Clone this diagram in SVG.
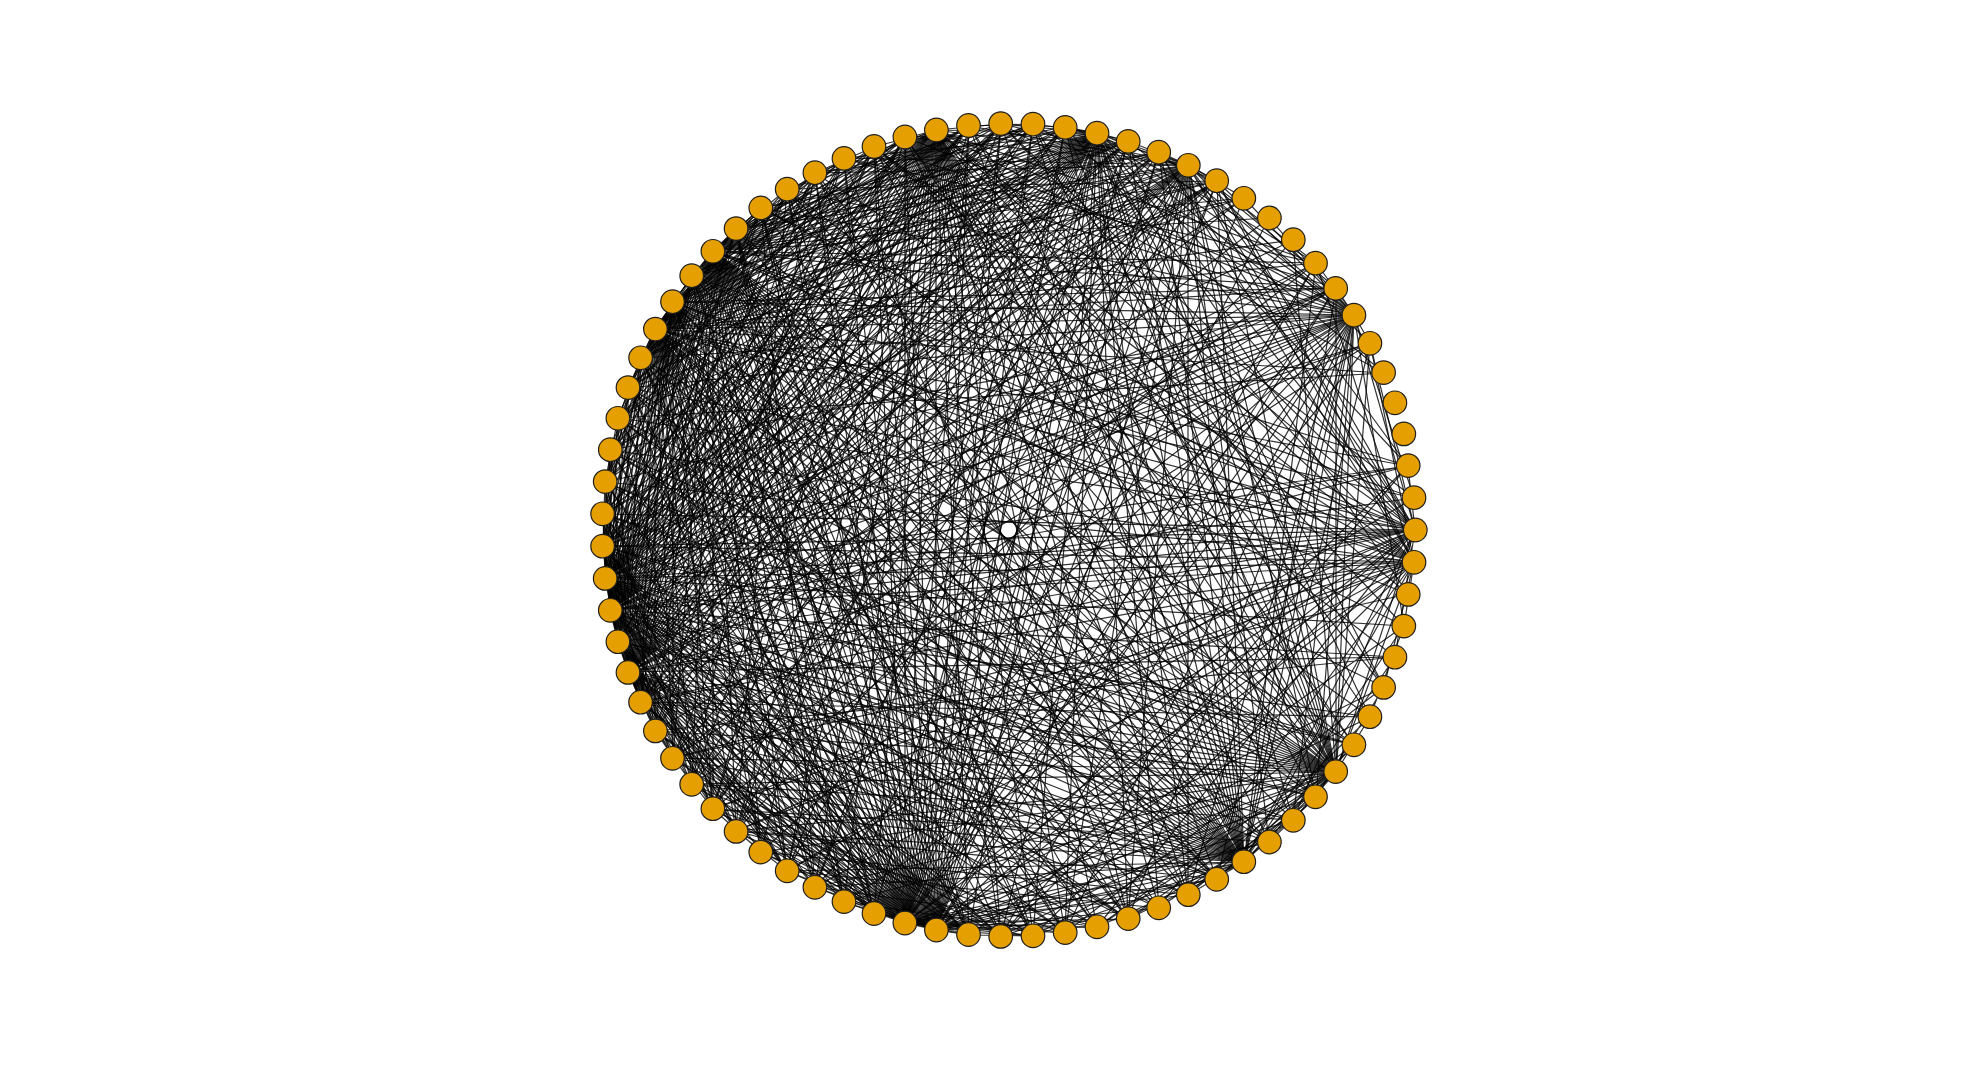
<svg xmlns="http://www.w3.org/2000/svg" width="1980" height="1080" viewBox="0 0 1980 1080">
<style>
.e{fill:none;stroke:#000;stroke-width:1.2;stroke-opacity:.8;stroke-linejoin:round}
.n{fill:#E69F00;stroke:#1f1f1f;stroke-width:1.2}
</style>
<rect width="1980" height="1080" fill="#fff"/>
<g id="edges">
<path class="e" d="M936 130L1415 530ZL1354 315ZL1316 263ZL1188 165ZL1097 133ZL874 147ZL787 189ZL713 251ZL673 302ZL655 329ZL628 388ZL610 450ZL603 514ZL603 546ZL605 578ZL610 610ZL618 642ZL628 672ZL641 702ZL655 731ZL673 758ZL692 784ZL713 809ZL736 831ZL761 852ZL815 887ZL844 902ZL905 923ZL936 930ZL969 935ZL1001 936ZL1065 933ZL1097 927ZL1159 908ZL1217 879ZL1244 862ZL1293 820ZL1336 772ZL1384 687ZL1414 562Z"/>
<path class="e" d="M936 130L1414 498ZL1384 373ZL1001 124ZL815 173ZL736 229ZL692 276ZL641 358ZL618 418ZL605 482ZL787 871ZL874 914ZL1033 936ZL1128 919ZL1188 895ZL1269 842ZL1316 797ZL1354 745ZL1404 626Z"/>
<path class="e" d="M1097 133L1415 530ZL1408 466ZL1384 373ZL1354 315ZL1217 181ZL1188 165ZL1033 124ZL1001 124ZL844 158ZL761 208ZL713 251ZL692 276ZL655 329ZL641 358ZL618 418ZL605 482ZL603 546ZL605 578ZL610 610ZL628 672ZL655 731ZL692 784ZL713 809ZL787 871ZL874 914ZL905 923ZL936 930ZL1033 936ZL1128 919ZL1188 895ZL1244 862ZL1316 797ZL1336 772ZL1370 717ZL1408 594Z"/>
<path class="e" d="M1097 133L1316 263ZL1128 141ZL1065 127ZL905 137ZL815 173ZL736 229ZL673 302ZL628 388ZL610 450ZL603 514ZL618 642ZL641 702ZL673 758ZL736 831ZL815 887ZL969 935ZL1065 933ZL1159 908ZL1293 820ZL1384 687Z"/>
<path class="e" d="M1188 165L1415 530ZL1370 343ZL1336 288ZL1316 263ZL1217 181ZL1065 127ZL969 126ZL815 173ZL736 229ZL713 251ZL655 329ZL610 450ZL603 546ZL610 610ZL618 642ZL641 702ZL736 831ZL844 902ZL905 923ZL936 930ZL1065 933ZL1244 862ZL1269 842ZL1336 772ZL1414 562Z"/>
<path class="e" d="M1188 165L1408 466ZL1244 198ZL1159 152ZL1128 141ZL1001 124ZL905 137ZL844 158ZL692 276ZL641 358ZL618 418ZL603 514ZL605 578ZL628 672ZL673 758ZL713 809ZL787 871ZL1001 936ZL1128 919ZL1188 895ZL1316 797Z"/>
<path class="e" d="M1354 315L1415 530ZL1414 498ZL1336 288ZL1269 218ZL1159 152ZL1128 141ZL1033 124ZL905 137ZL713 251ZL673 302ZL655 329ZL628 388ZL605 482ZL603 546ZL605 578ZL610 610ZL628 672ZL673 758ZL761 852ZL905 923ZL936 930ZL1001 936ZL1128 919ZL1217 879ZL1244 862ZL1316 797ZL1336 772ZL1404 626Z"/>
<path class="e" d="M1354 315L1370 343ZL1316 263ZL1244 198ZL1217 181ZL1001 124ZL844 158ZL787 189ZL761 208ZL641 358ZL610 450ZL618 642ZL655 731ZL713 809ZL815 887ZL1065 933ZL1188 895ZL1293 820Z"/>
<path class="e" d="M1415 530L1408 466ZL1370 343ZL1217 181ZL1065 127ZL1001 124ZL874 147ZL713 251ZL692 276ZL655 329ZL618 418ZL603 514ZL603 546ZL605 578ZL610 610ZL628 672ZL641 702ZL713 809ZL787 871ZL905 923ZL936 930ZL1097 927ZL1244 862ZL1293 820ZL1336 772ZL1395 657Z"/>
<path class="e" d="M1415 530L1159 152ZL761 208ZL628 388ZL618 642ZL736 831ZL844 902ZL1001 936Z"/>
<path class="e" d="M1414 562L1370 343ZL1316 263ZL1159 152ZL1001 124ZL815 173ZL713 251ZL673 302ZL655 329ZL610 450ZL603 546ZL605 578ZL610 610ZL628 672ZL673 758ZL736 831ZL905 923ZL936 930ZL1033 936ZL1159 908ZL1244 862ZL1336 772ZL1384 687Z"/>
<path class="e" d="M1414 562L1217 181ZL874 147ZL761 208ZL605 482ZL641 702ZL713 809ZL815 887Z"/>
<path class="e" d="M1336 772L1336 288ZL1217 181ZL1128 141ZL1033 124ZL969 126ZL874 147ZL787 189ZL713 251ZL673 302ZL655 329ZL641 358ZL610 450ZL603 514ZL603 546ZL605 578ZL610 610ZL618 642ZL628 672ZL655 731ZL692 784ZL761 852ZL815 887ZL905 923ZL936 930ZL1033 936ZL1097 927ZL1188 895ZL1244 862ZL1293 820ZL1370 717Z"/>
<path class="e" d="M1336 772L1370 343ZL1293 240ZL1159 152ZL1065 127ZL905 137ZL815 173ZL736 229ZL628 388ZL618 418ZL605 482ZL641 702ZL673 758ZL736 831ZL844 902ZL1001 936ZL1128 919ZL1217 879Z"/>
<path class="e" d="M1244 862L1370 343ZL1316 263ZL1217 181ZL1159 152ZL1065 127ZL1001 124ZL905 137ZL815 173ZL736 229ZL713 251ZL692 276ZL655 329ZL628 388ZL605 482ZL603 546ZL605 578ZL610 610ZL628 672ZL641 702ZL673 758ZL713 809ZL787 871ZL905 923ZL936 930ZL1001 936ZL1128 919ZL1188 895ZL1316 797ZL1354 745ZL1404 626Z"/>
<path class="e" d="M1244 862L1336 288ZL1128 141ZL1033 124ZL969 126ZL874 147ZL787 189ZL761 208ZL673 302ZL641 358ZL618 418ZL610 450ZL603 514ZL618 642ZL655 731ZL692 784ZL736 831ZL815 887ZL1033 936ZL1097 927Z"/>
<path class="e" d="M936 930L1336 288ZL1217 181ZL1128 141ZL1033 124ZL1001 124ZL969 126ZL905 137ZL844 158ZL787 189ZL761 208ZL713 251ZL692 276ZL673 302ZL655 329ZL641 358ZL618 418ZL605 482ZL603 546ZL605 578ZL610 610ZL618 642ZL628 672ZL641 702ZL655 731ZL692 784ZL736 831ZL787 871ZL844 902ZL905 923ZL1033 936ZL1097 927ZL1159 908ZL1217 879ZL1293 820ZL1370 717Z"/>
<path class="e" d="M936 930L1408 466ZL1316 263ZL1244 198ZL1159 152ZL1065 127ZL874 147ZL815 173ZL736 229ZL628 388ZL610 450ZL603 514ZL673 758ZL713 809ZL761 852ZL815 887ZL969 935ZL1128 919ZL1269 842Z"/>
<path class="e" d="M905 923L1316 263ZL1217 181ZL1159 152ZL1065 127ZL1033 124ZL969 126ZL874 147ZL815 173ZL761 208ZL736 229ZL713 251ZL692 276ZL673 302ZL655 329ZL641 358ZL628 388ZL610 450ZL603 514ZL603 546ZL605 578ZL610 610ZL618 642ZL628 672ZL655 731ZL673 758ZL713 809ZL761 852ZL815 887ZL969 935ZL1065 933ZL1128 919ZL1188 895ZL1269 842ZL1316 797ZL1384 687Z"/>
<path class="e" d="M905 923L1370 343ZL1336 288ZL1269 218ZL1128 141ZL1001 124ZL905 137ZL844 158ZL787 189ZL618 418ZL605 482ZL641 702ZL692 784ZL736 831ZL787 871ZL844 902ZL1033 936ZL1097 927ZL1217 879Z"/>
<path class="e" d="M610 610L1414 498ZL1336 288ZL1217 181ZL1159 152ZL1128 141ZL1065 127ZL1033 124ZL1001 124ZL969 126ZL905 137ZL844 158ZL815 173ZL787 189ZL713 251ZL692 276ZL655 329ZL641 358ZL618 418ZL605 482ZL603 546ZL628 672ZL655 731ZL692 784ZL736 831ZL815 887ZL874 914ZL1001 936ZL1065 933ZL1128 919ZL1188 895ZL1269 842ZL1370 717Z"/>
<path class="e" d="M610 610L1408 466ZL1370 343ZL1316 263ZL1244 198ZL874 147ZL761 208ZL736 229ZL673 302ZL628 388ZL610 450ZL603 514ZL618 642ZL641 702ZL673 758ZL713 809ZL787 871ZL969 935ZL1097 927ZL1217 879ZL1316 797ZL1395 657Z"/>
<path class="e" d="M628 672L1408 466ZL1316 263ZL1244 198ZL1217 181ZL1128 141ZL1033 124ZL1001 124ZL969 126ZL874 147ZL815 173ZL761 208ZL713 251ZL673 302ZL655 329ZL628 388ZL610 450ZL603 546ZL605 578ZL655 731ZL692 784ZL713 809ZL761 852ZL815 887ZL874 914ZL969 935ZL1033 936ZL1097 927ZL1159 908ZL1217 879ZL1395 657Z"/>
<path class="e" d="M628 672L1370 343ZL1336 288ZL1159 152ZL1065 127ZL905 137ZL844 158ZL787 189ZL736 229ZL692 276ZL641 358ZL618 418ZL605 482ZL603 514ZL618 642ZL641 702ZL673 758ZL736 831ZL787 871ZL844 902ZL1001 936ZL1128 919ZL1188 895ZL1293 820Z"/>
<path class="e" d="M605 578L1370 343ZL1293 240ZL1217 181ZL1159 152ZL1065 127ZL1033 124ZL969 126ZL905 137ZL874 147ZL787 189ZL736 229ZL713 251ZL655 329ZL641 358ZL618 418ZL603 514ZL618 642ZL641 702ZL673 758ZL736 831ZL844 902ZL1001 936ZL1065 933ZL1159 908ZL1293 820Z"/>
<path class="e" d="M605 578L1408 466ZL1336 288ZL1128 141ZL1001 124ZL815 173ZL692 276ZL610 450ZL713 809ZL787 871ZL969 935ZL1128 919ZL1217 879ZL1354 745ZL1404 626Z"/>
<path class="e" d="M603 546L1336 288ZL1217 181ZL1128 141ZL1001 124ZL969 126ZL844 158ZL761 208ZL713 251ZL692 276ZL655 329ZL628 388ZL610 450ZL618 642ZL655 731ZL713 809ZL787 871ZL874 914ZL969 935ZL1128 919ZL1354 745Z"/>
<path class="e" d="M655 329L1414 498ZL1384 373ZL1316 263ZL1244 198ZL1217 181ZL1159 152ZL1128 141ZL1065 127ZL1033 124ZL1001 124ZL969 126ZL905 137ZL874 147ZL815 173ZL761 208ZL713 251ZL628 388ZL618 418ZL605 482ZL603 514ZL618 642ZL641 702ZL655 731ZL673 758ZL692 784ZL713 809ZL761 852ZL787 871ZL844 902ZL1001 936ZL1065 933ZL1128 919ZL1188 895ZL1269 842ZL1316 797Z"/>
<path class="e" d="M655 329L1408 466ZL1336 288ZL1293 240ZL844 158ZL787 189ZL736 229ZL692 276ZL641 358ZL610 450ZL736 831ZL815 887ZL874 914ZL969 935ZL1033 936ZL1097 927ZL1217 879ZL1354 745ZL1384 687Z"/>
<path class="e" d="M713 251L1408 466ZL1336 288ZL1316 263ZL1269 218ZL1217 181ZL1159 152ZL1128 141ZL1065 127ZL1033 124ZL1001 124ZL969 126ZL905 137ZL844 158ZL787 189ZL673 302ZL641 358ZL618 418ZL610 450ZL605 482ZL603 514ZL618 642ZL641 702ZL655 731ZL673 758ZL692 784ZL736 831ZL761 852ZL815 887ZL874 914ZL969 935ZL1033 936ZL1097 927ZL1159 908ZL1293 820ZL1354 745Z"/>
<path class="e" d="M713 251L1414 498ZL1244 198ZL874 147ZL815 173ZL761 208ZL736 229ZL692 276ZL628 388ZL713 809ZL787 871ZL844 902ZL1001 936ZL1065 933ZL1128 919ZL1188 895ZL1217 879ZL1269 842ZL1316 797ZL1370 717Z"/>
<path class="e" d="M673 302L1336 288ZL1217 181ZL1128 141ZL1033 124ZL969 126ZL905 137ZL815 173ZL628 388ZL605 482ZL618 642ZL641 702ZL673 758ZL713 809ZL761 852ZL844 902ZL969 935ZL1065 933ZL1128 919ZL1217 879ZL1408 594Z"/>
<path class="e" d="M1217 181L692 784M1159 152L713 809M1128 141L815 887M1065 127L641 702M1033 124L655 731M1001 124L736 831M969 126L787 871M905 137L713 809M874 147L1001 936M844 158L1128 919M815 173L1188 895M787 189L1033 936M761 208L969 935M736 229L874 914M692 276L1033 936M641 358L1097 927M628 388L1159 908M618 418L1217 879M610 450L1269 842M605 482L1316 797M603 514L1354 745M618 642L1316 797M641 702L1370 717M655 731L1395 657M673 758L1408 594M692 784L1293 820M713 809L1269 842M736 831L1217 879M761 852L1188 895M787 871L1159 908M815 887L1097 927M844 902L1065 933M874 914L1033 936M969 935L1404 626M1065 933L1384 687M1097 927L1354 745M1128 919L1293 820M1159 908L1316 797M1188 895L1370 717M1217 879L1354 745M1269 842L1395 657M1316 797L1384 687M1370 717L1404 626"/>
<path class="e" d="M1336 288L641 702M1316 263L673 758M1217 181L603 514M1159 152L610 450M1128 141L641 358M1065 127L628 388M1033 124L618 418M1001 124L605 482M969 126L603 514M905 137L618 642M874 147L641 702M844 158L655 731M815 173L692 784M787 189L736 831M761 208L815 887M736 229L844 902M692 276L787 871M641 358L874 914M628 388L815 887M618 418L713 809M610 450L655 731M605 482L692 784M603 514L736 831M618 642L787 871M641 702L874 914M655 731L969 935M673 758L1001 936M692 784L1033 936M713 809L1065 933M736 831L1097 927"/>
<path class="e" d="M1336 288L874 147M1316 263L844 158M1217 181L787 189M1159 152L736 229M1128 141L761 208M1065 127L815 173M1033 124L736 229M1001 124L787 189M969 126L692 276M905 137L628 388M874 147L618 418M844 158L641 358M815 173L610 450M787 189L605 482M1384 373L618 418M1370 343L692 784M1414 498L787 871M1408 466L1001 936M1293 240L736 831M1269 218L641 702M1244 198L628 388M1404 626L692 276M1395 657L787 189M1408 594L874 147M1384 687L1033 124M1370 717L969 126M1354 745L905 137"/>
<path class="e" d="M618 642L641 702M641 702L673 758M655 731L692 784M673 758L713 809M713 809L761 852M736 831L787 871M618 418L605 482M605 482L603 546M641 358L618 418M692 276L655 329M761 208L713 251M874 147L815 173M1128 141L1065 127M1065 127L1001 124M1033 124L969 126M1404 626L1414 562M1269 842L1316 797M969 935L1033 936"/>
</g>
<g id="nodes">
<g id="n0"><circle class="n" cx="1415.3" cy="530" r="11.8"/></g>
<g id="n1"><circle class="n" cx="1414" cy="497.7" r="11.8"/></g>
<g id="n2"><circle class="n" cx="1408.2" cy="465.6" r="11.8"/></g>
<g id="n3"><circle class="n" cx="1403.8" cy="433.9" r="11.8"/></g>
<g id="n4"><circle class="n" cx="1394.9" cy="402.8" r="11.8"/></g>
<g id="n5"><circle class="n" cx="1383.6" cy="372.6" r="11.8"/></g>
<g id="n6"><circle class="n" cx="1369.9" cy="343.3" r="11.8"/></g>
<g id="n7"><circle class="n" cx="1353.9" cy="315.2" r="11.8"/></g>
<g id="n8"><circle class="n" cx="1335.7" cy="288.4" r="11.8"/></g>
<g id="n9"><circle class="n" cx="1315.5" cy="263.2" r="11.8"/></g>
<g id="n10"><circle class="n" cx="1293.3" cy="239.7" r="11.8"/></g>
<g id="n11"><circle class="n" cx="1269.4" cy="218" r="11.8"/></g>
<g id="n12"><circle class="n" cx="1243.8" cy="198.3" r="11.8"/></g>
<g id="n13"><circle class="n" cx="1216.7" cy="180.7" r="11.8"/></g>
<g id="n14"><circle class="n" cx="1188.3" cy="165.3" r="11.8"/></g>
<g id="n15"><circle class="n" cx="1158.7" cy="152.2" r="11.8"/></g>
<g id="n16"><circle class="n" cx="1128.2" cy="141.4" r="11.8"/></g>
<g id="n17"><circle class="n" cx="1097" cy="133.2" r="11.8"/></g>
<g id="n18"><circle class="n" cx="1065.2" cy="127.4" r="11.8"/></g>
<g id="n19"><circle class="n" cx="1033" cy="124.2" r="11.8"/></g>
<g id="n20"><circle class="n" cx="1000.7" cy="123.6" r="11.8"/></g>
<g id="n21"><circle class="n" cx="968.5" cy="125.5" r="11.8"/></g>
<g id="n22"><circle class="n" cx="936.4" cy="130" r="11.8"/></g>
<g id="n23"><circle class="n" cx="904.9" cy="137" r="11.8"/></g>
<g id="n24"><circle class="n" cx="874" cy="146.5" r="11.8"/></g>
<g id="n25"><circle class="n" cx="844" cy="158.4" r="11.8"/></g>
<g id="n26"><circle class="n" cx="814.9" cy="172.7" r="11.8"/></g>
<g id="n27"><circle class="n" cx="787.2" cy="189.2" r="11.8"/></g>
<g id="n28"><circle class="n" cx="760.8" cy="207.9" r="11.8"/></g>
<g id="n29"><circle class="n" cx="736.1" cy="228.6" r="11.8"/></g>
<g id="n30"><circle class="n" cx="712.9" cy="251.3" r="11.8"/></g>
<g id="n31"><circle class="n" cx="691.7" cy="275.7" r="11.8"/></g>
<g id="n32"><circle class="n" cx="672.5" cy="301.7" r="11.8"/></g>
<g id="n33"><circle class="n" cx="655.4" cy="329.1" r="11.8"/></g>
<g id="n34"><circle class="n" cx="640.6" cy="357.8" r="11.8"/></g>
<g id="n35"><circle class="n" cx="628" cy="387.6" r="11.8"/></g>
<g id="n36"><circle class="n" cx="617.9" cy="418.3" r="11.8"/></g>
<g id="n37"><circle class="n" cx="610.3" cy="449.7" r="11.8"/></g>
<g id="n38"><circle class="n" cx="605.2" cy="481.6" r="11.8"/></g>
<g id="n39"><circle class="n" cx="602.6" cy="513.8" r="11.8"/></g>
<g id="n40"><circle class="n" cx="602.6" cy="546.2" r="11.8"/></g>
<g id="n41"><circle class="n" cx="605.2" cy="578.4" r="11.8"/></g>
<g id="n42"><circle class="n" cx="610.3" cy="610.3" r="11.8"/></g>
<g id="n43"><circle class="n" cx="617.9" cy="641.7" r="11.8"/></g>
<g id="n44"><circle class="n" cx="628" cy="672.4" r="11.8"/></g>
<g id="n45"><circle class="n" cx="640.6" cy="702.2" r="11.8"/></g>
<g id="n46"><circle class="n" cx="655.4" cy="730.9" r="11.8"/></g>
<g id="n47"><circle class="n" cx="672.5" cy="758.3" r="11.8"/></g>
<g id="n48"><circle class="n" cx="691.7" cy="784.3" r="11.8"/></g>
<g id="n49"><circle class="n" cx="712.9" cy="808.7" r="11.8"/></g>
<g id="n50"><circle class="n" cx="736.1" cy="831.4" r="11.8"/></g>
<g id="n51"><circle class="n" cx="760.8" cy="852.1" r="11.8"/></g>
<g id="n52"><circle class="n" cx="787.2" cy="870.8" r="11.8"/></g>
<g id="n53"><circle class="n" cx="814.9" cy="887.3" r="11.8"/></g>
<g id="n54"><circle class="n" cx="844" cy="901.6" r="11.8"/></g>
<g id="n55"><circle class="n" cx="874" cy="913.5" r="11.8"/></g>
<g id="n56"><circle class="n" cx="904.9" cy="923" r="11.8"/></g>
<g id="n57"><circle class="n" cx="936.4" cy="930" r="11.8"/></g>
<g id="n58"><circle class="n" cx="968.5" cy="934.5" r="11.8"/></g>
<g id="n59"><circle class="n" cx="1000.7" cy="936.4" r="11.8"/></g>
<g id="n60"><circle class="n" cx="1033" cy="935.8" r="11.8"/></g>
<g id="n61"><circle class="n" cx="1065.2" cy="932.6" r="11.8"/></g>
<g id="n62"><circle class="n" cx="1097" cy="926.8" r="11.8"/></g>
<g id="n63"><circle class="n" cx="1128.2" cy="918.6" r="11.8"/></g>
<g id="n64"><circle class="n" cx="1158.7" cy="907.8" r="11.8"/></g>
<g id="n65"><circle class="n" cx="1188.3" cy="894.7" r="11.8"/></g>
<g id="n66"><circle class="n" cx="1216.7" cy="879.3" r="11.8"/></g>
<g id="n67"><circle class="n" cx="1243.8" cy="861.7" r="11.8"/></g>
<g id="n68"><circle class="n" cx="1269.4" cy="842" r="11.8"/></g>
<g id="n69"><circle class="n" cx="1293.3" cy="820.3" r="11.8"/></g>
<g id="n70"><circle class="n" cx="1315.5" cy="796.8" r="11.8"/></g>
<g id="n71"><circle class="n" cx="1335.7" cy="771.6" r="11.8"/></g>
<g id="n72"><circle class="n" cx="1353.9" cy="744.8" r="11.8"/></g>
<g id="n73"><circle class="n" cx="1369.9" cy="716.7" r="11.8"/></g>
<g id="n74"><circle class="n" cx="1383.6" cy="687.4" r="11.8"/></g>
<g id="n75"><circle class="n" cx="1394.9" cy="657.2" r="11.8"/></g>
<g id="n76"><circle class="n" cx="1403.8" cy="626.1" r="11.8"/></g>
<g id="n77"><circle class="n" cx="1408.2" cy="594.4" r="11.8"/></g>
<g id="n78"><circle class="n" cx="1414" cy="562.3" r="11.8"/></g>
</g>
</svg>
